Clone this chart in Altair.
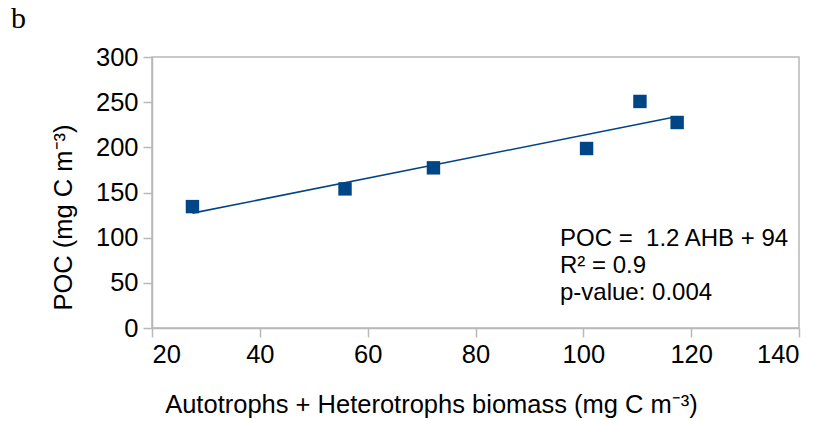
import altair as alt
import pandas as pd

# Data
ahb = [27.5, 55.8, 72.2, 100.6, 110.5, 117.4]
poc = [134.4, 154.0, 177.3, 198.7, 250.8, 227.5]
x_ticks = [20, 40, 60, 80, 100, 120, 140]
y_ticks = [0, 50, 100, 150, 200, 250, 300]
panel_label = "b"
annotation = "POC =\u00a0 1.2 AHB + 94\nR\u00b2 = 0.9\np-value: 0.004"
x_title = "Autotrophs + Heterotrophs biomass (mg C m\u207b\u00b3)"
y_title = "POC (mg C m\u207b\u00b3)"

df = pd.DataFrame({"AHB": ahb, "POC": poc})
one = pd.DataFrame({"note": [annotation], "label": [panel_label]})

BLUE = "#004586"
GRAY = "#b8b8b8"
FONT = "Liberation Sans"
FS = 25.5

x_enc = alt.X(
    "AHB:Q",
    scale=alt.Scale(domain=[20, 140], nice=False, zero=False),
    axis=alt.Axis(
        values=x_ticks, title=x_title, grid=False, labelPadding=5,
        titleX=279, titleY=76, titleBaseline="middle", titleAlign="center",
    ),
)
y_enc = alt.Y(
    "POC:Q",
    scale=alt.Scale(domain=[0, 300], nice=False),
    axis=alt.Axis(
        values=y_ticks, title=y_title, grid=False, labelPadding=5,
        titleX=-89, titleY=160, titleBaseline="middle", titleAlign="center",
        titleAngle=270,
    ),
)

base = alt.Chart(df)

trend = base.transform_regression("AHB", "POC").mark_line(
    color=BLUE, strokeWidth=1.6
).encode(x=x_enc, y=y_enc)

points = base.mark_point(
    shape="square", filled=True, size=180, color=BLUE, opacity=1
).encode(x=x_enc, y=y_enc)

note = alt.Chart(one).mark_text(
    align="left", baseline="middle", fontSize=24, font=FONT, color="black",
    lineBreak="\n", lineHeight=27.3,
).encode(x=alt.value(408), y=alt.value(181.5), text="note:N")

label = alt.Chart(one).mark_text(
    align="left", baseline="middle", fontSize=30, font="Liberation Serif",
    color="black",
).encode(x=alt.value(-141), y=alt.value(-38), text="label:N")

chart = alt.layer(trend, points, note, label).properties(
    width=647,
    height=271,
    autosize=alt.AutoSizeParams(type="none"),
    padding={"left": 152, "top": 57, "right": 29, "bottom": 93},
    background="white",
).configure_view(
    stroke=GRAY, strokeWidth=1.5
).configure_axis(
    domainColor=GRAY, domainWidth=1.5, tickColor=GRAY, tickWidth=1.5,
    tickSize=9, labelFont=FONT, labelFontSize=FS,
    labelColor="black", titleFont=FONT, titleFontSize=FS,
    titleFontWeight="normal", titleColor="black",
)

chart.save("out.html", embed_options={"renderer": "svg", "actions": False})
